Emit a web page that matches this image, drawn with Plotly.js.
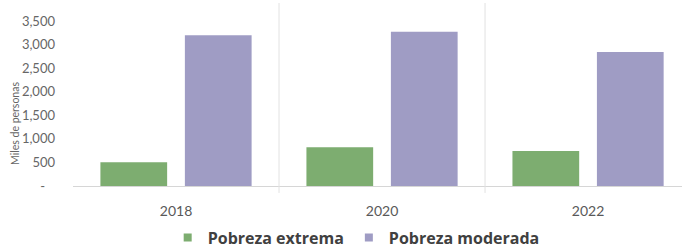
<!DOCTYPE html>
<html>
<head>
<meta charset="utf-8">
<script src="https://cdn.plot.ly/plotly-3.0.1.min.js"></script>
<style>html,body{margin:0;padding:0;background:#fff;}#chart{width:682px;height:248px;}</style>
</head>
<body>
<div id="chart"></div>
<script>
const years = ['2018', '2020', '2022'];
const pobrezaExtrema = [505, 820, 740];
const pobrezaModerada = [3200, 3270, 2840];
const yTickVals = [0, 500, 1000, 1500, 2000, 2500, 3000, 3500];
const yTickText = ['-\u00a0\u00a0\u00a0', '500', '1,000', '1,500', '2,000', '2,500', '3,000', '3,500'];
const seriesNames = ['Pobreza extrema', 'Pobreza moderada'];
const colors = ['#7dad70', '#9f9cc4'];

const traces = [
  {type: 'bar', x: years, y: pobrezaExtrema, name: seriesNames[0], marker: {color: colors[0]}, showlegend: false, legendgroup: 'a', hoverinfo: 'y'},
  {type: 'bar', x: years, y: pobrezaModerada, name: seriesNames[1], marker: {color: colors[1]}, showlegend: false, legendgroup: 'b', hoverinfo: 'y'},
  {type: 'scatter', mode: 'markers', x: [null], y: [null], name: seriesNames[0], legendgroup: 'a', marker: {symbol: 'square', size: 8, color: colors[0]}},
  {type: 'scatter', mode: 'markers', x: [null], y: [null], name: seriesNames[1], legendgroup: 'b', marker: {symbol: 'square', size: 8, color: colors[1]}}
];

const layout = {
  width: 682, height: 248,
  margin: {l: 73, r: 0, t: 3, b: 62},
  paper_bgcolor: '#ffffff', plot_bgcolor: '#ffffff',
  font: {family: 'Lato, sans-serif', color: '#595959'},
  barmode: 'group', bargap: 0.18, bargroupgap: 0.21,
  xaxis: {
    type: 'category', range: [-0.5, 2.456],
    showgrid: false, zeroline: false,
    showline: true, linecolor: '#d6d6d6', linewidth: 1,
    ticks: '', ticklabelstandoff: 12,
    tickfont: {size: 14, color: '#595959'}
  },
  yaxis: {
    range: [0, 3882], tickvals: yTickVals, ticktext: yTickText,
    showgrid: false, zeroline: false, showline: false,
    ticks: '', ticklabelstandoff: 17,
    tickfont: {size: 13, color: '#666666'}
  },
  shapes: [0.5, 1.5].map(v => ({type: 'line', xref: 'x', yref: 'paper', x0: v, x1: v, y0: -0.038, y1: 1, line: {color: '#e2e2e2', width: 1}})),
  annotations: [{
    text: 'Miles de personas', textangle: -90, showarrow: false,
    xref: 'paper', yref: 'paper', x: -0.095, y: 0.34, xanchor: 'center', yanchor: 'middle',
    font: {size: 10.5, color: '#666666'}
  }],
  legend: {
    orientation: 'h', xref: 'paper', yref: 'container', x: 0.465, xanchor: 'center', y: 0.042, yanchor: 'middle',
    font: {family: '"Open Sans", sans-serif', size: 16, color: '#404040', weight: 'bold'},
    itemwidth: 30, bgcolor: 'rgba(0,0,0,0)'
  },
  hovermode: false
};

Plotly.newPlot('chart', traces, layout, {staticPlot: true, displayModeBar: false});
</script>
</body>
</html>
